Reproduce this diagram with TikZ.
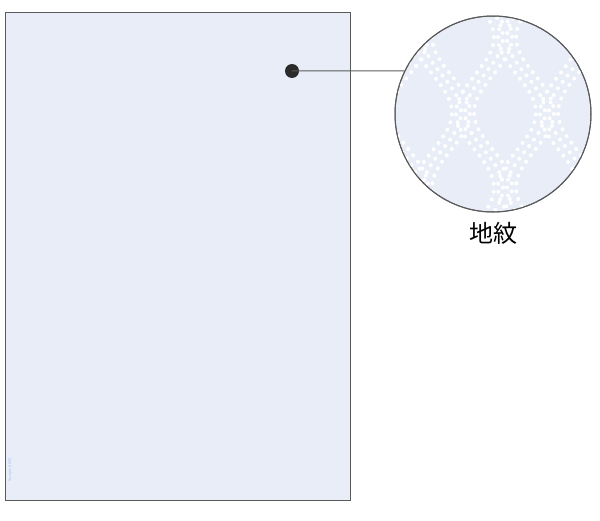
\documentclass[tikz,border=0pt]{standalone}
\usepackage{fontspec}
\usetikzlibrary{decorations.markings}
\newfontfamily\cjk{Noto Sans CJK JP}
\definecolor{paper}{HTML}{E9EDF8}
\definecolor{edge}{HTML}{5A5A5A}
\definecolor{dotc}{HTML}{2B2B2B}
\definecolor{tinyblue}{HTML}{A9BDE6}
\tikzset{
  sheet/.style={draw=edge, line width=0.75pt, fill=paper},
  lens/.style={circle, draw=edge, line width=0.75pt, minimum size=147pt, inner sep=0pt},
  pin/.style={circle, fill=dotc, minimum size=10.5pt, inner sep=0pt},
  leader/.style={draw=edge, line width=0.75pt},
  dotrow/.style={decorate, decoration={markings,
     mark=between positions 0 and 1 step 6pt with {\fill[white] (0,0) circle (1.5pt);}}}
}
\begin{document}
\begin{tikzpicture}[x=0.75pt,y=-0.75pt]
\useasboundingbox (0,0) rectangle (600,521);
\fill[sheet] (5,12) rectangle (350,500);
\node[rotate=90, text=tinyblue, font=\fontsize{3}{3}\selectfont\sffamily, inner sep=0pt] (mark) at (10,470) {Sample 0000};
\node[lens, fill=paper] (mag) at (493,114) {};
\begin{scope}
  \clip (493,114) circle (97.5);
  \foreach \c in {0,...,5}{
    \pgfmathsetmacro\xc{400+\c*42}
    \pgfmathsetmacro\ph{mod(\c,2)*180}
    \foreach \o/\s in {-9/2,0/5,9/8}{
      \path[dotrow] plot[domain=\s:235, samples=60, variable=\t]
        ({\xc+\o+19*sin(\t*2.4+\ph)},\t);
    }
  }
\end{scope}
\node[lens] at (493,114) {};
\node[pin] (dot) at (292,71) {};
\draw[leader] (dot.center) -- (mag.154);
\node[font=\cjk\fontsize{18}{21}\selectfont] (lab) at (493,233) {地紋};
\end{tikzpicture}
\end{document}
